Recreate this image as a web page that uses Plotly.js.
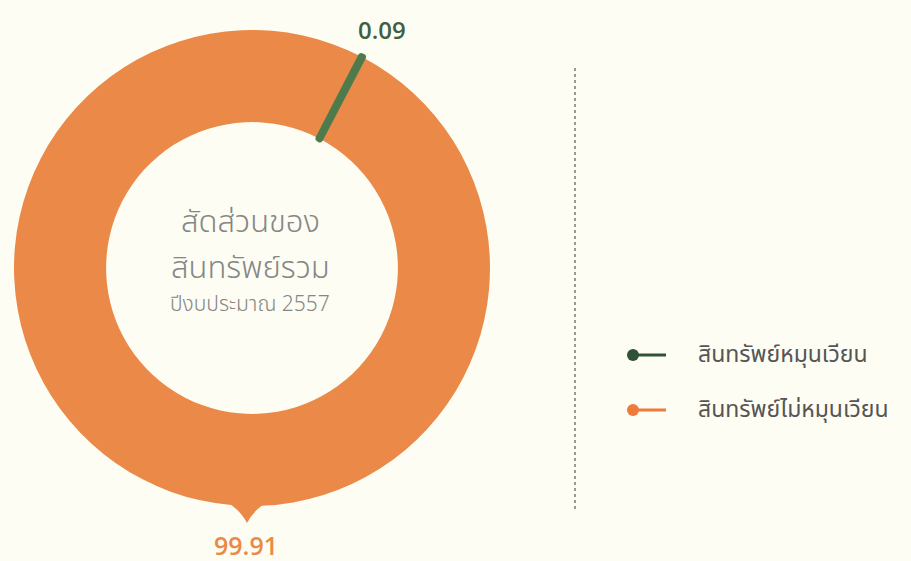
<!DOCTYPE html>
<html>
<head>
<meta charset="utf-8">
<script src="https://cdn.plot.ly/plotly-3.0.1.min.js"></script>
<style>html,body{margin:0;padding:0;background:#fdfdf3;}#chart{width:911px;height:561px;}</style>
</head>
<body>
<div id="chart"></div>
<script>
// Data
const labels = ["สินทรัพย์ไม่หมุนเวียน", "สินทรัพย์หมุนเวียน"];
const values = [99.91, 0.09];
const sliceColors = ["#eb8a48", "#4e7a4c"];
const legendLabels = ["สินทรัพย์หมุนเวียน", "สินทรัพย์ไม่หมุนเวียน"];
const legendColors = ["#2f5136", "#ee7b3b"];
const centerLines = ["สัดส่วนของ", "สินทรัพย์รวม", "ปีงบประมาณ 2557"];

const W = 911, H = 561;
const cx = 252, cy = 268, R = 238;
const thaiFont = "'Noto Sans Thai','Noto Sans','DejaVu Sans',sans-serif";
const px = x => x / W, py = y => 1 - y / H;

const pie = {
  type: "pie",
  labels: labels,
  values: values,
  sort: false,
  direction: "clockwise",
  rotation: 27.5 - values[1] * 3.6 / 2 - values[0] * 3.6,
  hole: 0.613,
  textinfo: "none",
  hoverinfo: "label+value",
  showlegend: false,
  marker: {colors: sliceColors, line: {color: sliceColors, width: [0, 7]}},
  domain: {x: [(cx - R) / W, (cx + R) / W], y: [(H - cy - R) / H, (H - cy + R) / H]}
};

const annotations = [];
const shapes = [];
const ann = (x, y, text, font, xanchor) => annotations.push({x: px(x), y: py(y), xref: "paper", yref: "paper",
  xanchor: xanchor || "center", yanchor: "middle", showarrow: false, text: text, font: font});
// value labels
ann(382, 30, values[1].toFixed(2), {family: "'Open Sans',sans-serif", size: 24, color: "#3f5e43", weight: 600});
ann(246, 545, values[0].toFixed(2), {family: "'Open Sans',sans-serif", size: 25, color: "#eb8a48", weight: 600});
// pointer under ring
shapes.push({type: "path", xref: "paper", yref: "paper", fillcolor: sliceColors[0], line: {width: 0},
  path: `M ${px(208)},${py(494)} Q ${px(236)},${py(502)} ${px(247)},${py(523)} Q ${px(258)},${py(502)} ${px(286)},${py(494)} Z`});
// center text
const cys = [222, 268, 304];
const csz = [31, 31, 21];
centerLines.forEach((t, i) => ann(250, cys[i], t, {family: thaiFont, size: csz[i], color: "#868686", weight: 300}));
// legend
const ly = [355, 410];
legendLabels.forEach((t, i) => {
  const y = py(ly[i]);
  shapes.push({type: "line", xref: "paper", yref: "paper", x0: px(634), x1: px(666), y0: y, y1: y,
    line: {color: legendColors[i], width: 3}});
  shapes.push({type: "circle", xref: "paper", yref: "paper", x0: px(627), x1: px(639),
    y0: y - 6 / H, y1: y + 6 / H, fillcolor: legendColors[i], line: {width: 0}});
  ann(696, ly[i], t, {family: thaiFont, size: 23, color: "#555555"}, "left");
});
// dotted divider
shapes.push({type: "line", xref: "paper", yref: "paper", x0: px(575), x1: px(575), y0: py(68), y1: py(512),
  line: {color: "#777777", width: 1.5, dash: "dot"}});

const layout = {
  width: W, height: H,
  margin: {l: 0, r: 0, t: 0, b: 0},
  paper_bgcolor: "#fdfdf3",
  plot_bgcolor: "#fdfdf3",
  showlegend: false,
  annotations: annotations,
  shapes: shapes
};
Plotly.newPlot("chart", [pie], layout, {displayModeBar: false, staticPlot: true});
</script>
</body>
</html>
